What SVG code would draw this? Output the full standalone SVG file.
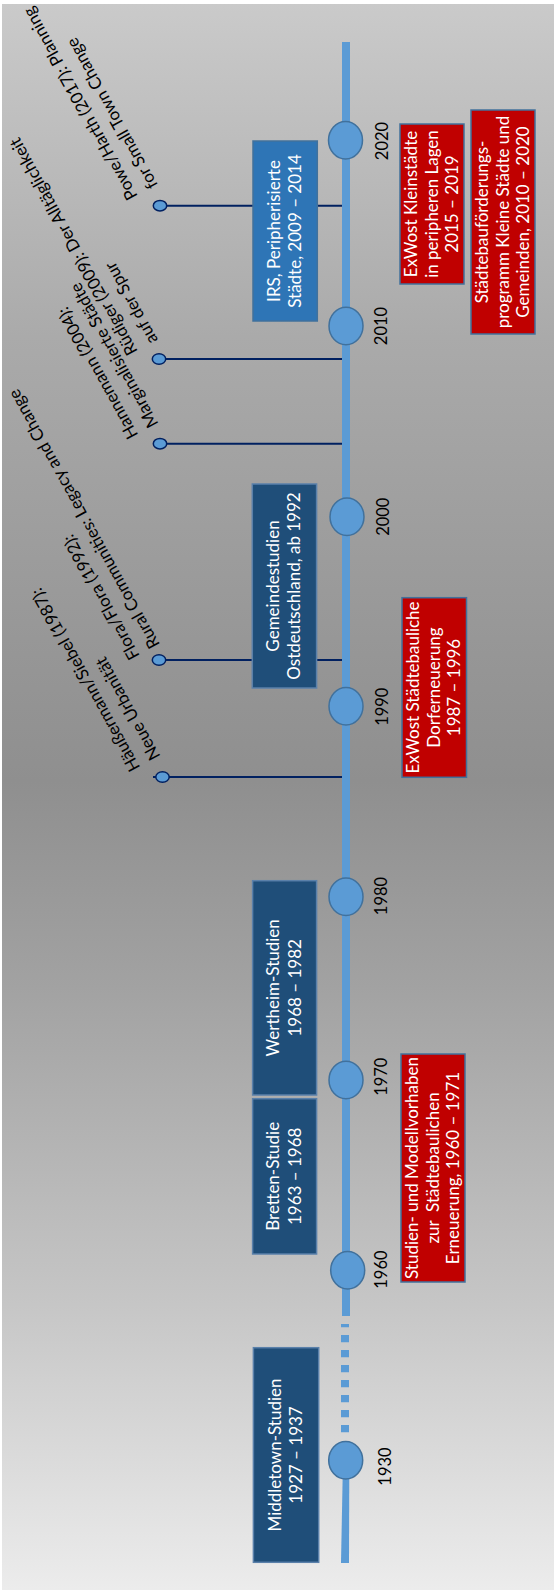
<svg xmlns="http://www.w3.org/2000/svg" width="554" height="1591" viewBox="0 0 554 1591">
<defs>
<linearGradient id="bg" x1="0" y1="0" x2="0" y2="1">
<stop offset="0" stop-color="#cacaca"/>
<stop offset="0.21" stop-color="#aaaaaa"/>
<stop offset="0.42" stop-color="#959595"/>
<stop offset="0.49" stop-color="#8f8f8f"/>
<stop offset="0.62" stop-color="#a2a2a2"/>
<stop offset="0.82" stop-color="#c6c6c6"/>
<stop offset="1" stop-color="#ececec"/>
</linearGradient>
<style>
.bd{fill:#1f4e79;stroke:#5a80aa;stroke-width:1.5}
.bm{fill:#2e75b6;stroke:#41719c;stroke-width:1.5}
.br{fill:#c00000;stroke:#41719c;stroke-width:1.5}
.yd{fill:#5b9bd5;stroke:#41719c;stroke-width:1.5}
.pin{fill:#5b9bd5;stroke:#002060;stroke-width:1.5}
.conn{stroke:#002060;stroke-width:2;fill:none}
.ax{fill:#5b9bd5}
.wt{fill:#ffffff;font-family:Lato,"Liberation Sans",sans-serif;font-size:17px;text-anchor:middle}
.yr{fill:#000000;font-family:Lato,"Liberation Sans",sans-serif;font-size:16.5px;text-anchor:middle}
.lbl{fill:#000000;font-family:Lato,"Liberation Sans",sans-serif;font-size:17px}
</style>
</defs>
<rect x="0" y="0" width="554" height="1591" fill="#ffffff"/>
<rect x="2" y="4" width="552" height="1586" fill="url(#bg)"/>

<g id="connectors">
<line class="conn" x1="166" y1="205.7" x2="342" y2="205.7"/>
<line class="conn" x1="165" y1="359" x2="342" y2="359"/>
<line class="conn" x1="166" y1="443.7" x2="342" y2="443.7"/>
<line class="conn" x1="165" y1="660" x2="342" y2="660"/>
<line class="conn" x1="153" y1="777" x2="342" y2="777"/>
</g>

<g id="axis">
<rect class="ax" x="342" y="42" width="8" height="1274"/>
<line x1="345" y1="1324" x2="345" y2="1432.3" stroke="#5b9bd5" stroke-width="8" stroke-dasharray="7.3 7.7" stroke-dashoffset="4"/>
<polygon class="ax" points="342.8,1470 349.3,1470 349,1563 341,1563"/>
</g>

<g id="year-2020"><ellipse class="yd" cx="345.5" cy="140.3" rx="17" ry="18.7"/><text class="yr" transform="translate(381.6,141) rotate(-90)" y="6">2020</text></g>
<g id="year-2010"><ellipse class="yd" cx="346" cy="326" rx="17" ry="18.7"/><text class="yr" transform="translate(380.5,326) rotate(-90)" y="6">2010</text></g>
<g id="year-2000"><ellipse class="yd" cx="347" cy="516.7" rx="17" ry="18.7"/><text class="yr" transform="translate(383.4,516.7) rotate(-90)" y="6">2000</text></g>
<g id="year-1990"><ellipse class="yd" cx="346" cy="706.3" rx="17" ry="18.7"/><text class="yr" transform="translate(381.6,706.7) rotate(-90)" y="6">1990</text></g>
<g id="year-1980"><ellipse class="yd" cx="346" cy="896.7" rx="17" ry="18.7"/><text class="yr" transform="translate(380.6,896) rotate(-90)" y="6">1980</text></g>
<g id="year-1970"><ellipse class="yd" cx="346" cy="1080" rx="17" ry="18.7"/><text class="yr" transform="translate(380.6,1076.7) rotate(-90)" y="6">1970</text></g>
<g id="year-1960"><ellipse class="yd" cx="347.7" cy="1270.3" rx="17" ry="18.7"/><text class="yr" transform="translate(380.6,1269.6) rotate(-90)" y="6">1960</text></g>
<g id="year-1930"><ellipse class="yd" cx="345.7" cy="1460.3" rx="17" ry="18.7"/><text class="yr" transform="translate(384.5,1466.5) rotate(-90)" y="6">1930</text></g>

<g id="box-irs"><rect class="bm" x="253" y="141" width="64.3" height="180"/><text class="wt" transform="translate(285,231) rotate(-90)"><tspan x="0" y="-5.5">IRS, Peripherisierte</tspan><tspan x="0" y="16">Städte, 2009 – 2014</tspan></text></g>
<g id="box-gemeinde"><rect class="bd" x="252.3" y="484" width="64.3" height="204"/><text class="wt" transform="translate(284.4,586) rotate(-90)"><tspan x="0" y="-5.5">Gemeindestudien</tspan><tspan x="0" y="16">Ostdeutschland, ab 1992</tspan></text></g>
<g id="box-wertheim"><rect class="bd" x="252.6" y="880.7" width="64" height="214.3"/><text class="wt" transform="translate(284.6,987.8) rotate(-90)"><tspan x="0" y="-5.5">Wertheim-Studien</tspan><tspan x="0" y="16">1968 – 1982</tspan></text></g>
<g id="box-bretten"><rect class="bd" x="252.6" y="1098.7" width="64" height="155.3"/><text class="wt" transform="translate(284.6,1176.3) rotate(-90)"><tspan x="0" y="-5.5">Bretten-Studie</tspan><tspan x="0" y="16">1963 – 1968</tspan></text></g>
<g id="box-middletown"><rect class="bd" x="253.4" y="1347.7" width="65.3" height="214.6"/><text class="wt" transform="translate(286,1455) rotate(-90)"><tspan x="0" y="-5.5">Middletown-Studien</tspan><tspan x="0" y="16">1927 – 1937</tspan></text></g>

<g id="box-exwost-kleinstaedte"><rect class="br" x="400" y="124" width="64" height="160"/><text class="wt" transform="translate(432,204) rotate(-90)"><tspan x="0" y="-15">ExWost Kleinstädte</tspan><tspan x="0" y="5.5">in peripheren Lagen</tspan><tspan x="0" y="26">2015 – 2019</tspan></text></g>
<g id="box-foerderprogramm"><rect class="br" x="471" y="110" width="64" height="224"/><text class="wt" transform="translate(503,222) rotate(-90)"><tspan x="0" y="-15">Städtebauförderungs-</tspan><tspan x="0" y="5.5">programm Kleine Städte und</tspan><tspan x="0" y="26">Gemeinden, 2010 – 2020</tspan></text></g>
<g id="box-exwost-dorf"><rect class="br" x="402" y="597.7" width="64.5" height="179.6"/><text class="wt" transform="translate(434,687.5) rotate(-90)"><tspan x="0" y="-15">ExWost Städtebauliche</tspan><tspan x="0" y="5.5">Dorferneuerung</tspan><tspan x="0" y="26">1987 – 1996</tspan></text></g>
<g id="box-studien"><rect class="br" x="401" y="1054" width="64" height="228"/><text class="wt" transform="translate(433,1168) rotate(-90)"><tspan x="0" y="-15">Studien- und Modellvorhaben</tspan><tspan x="0" y="5.5">zur&#160; Städtebaulichen</tspan><tspan x="0" y="26">Erneuerung, 1960 – 1971</tspan></text></g>

<g id="label-powe"><ellipse class="pin" cx="160" cy="205.7" rx="6.7" ry="5.3"/><text class="lbl" transform="translate(160,205.7) rotate(-119)"><tspan x="19" y="-14.5">Powe/Harth (2017): Planning</tspan><tspan x="19" y="8.5">for Small Town Change</tspan></text></g>
<g id="label-ruediger"><ellipse class="pin" cx="159" cy="359" rx="6.7" ry="5.3"/><text class="lbl" transform="translate(159,359) rotate(-119)"><tspan x="17" y="-14.5">Rüdiger (2009): Der Alltäglichkeit</tspan><tspan x="17" y="8.5">auf der Spur</tspan></text></g>
<g id="label-hannemann"><ellipse class="pin" cx="160" cy="443.7" rx="6.7" ry="5.3"/><text class="lbl" transform="translate(160,443.7) rotate(-119)"><tspan x="18" y="-14.5">Hannemann (2004):</tspan><tspan x="18" y="8.5">Marginalisierte Städte</tspan></text></g>
<g id="label-flora"><ellipse class="pin" cx="159" cy="660" rx="6.7" ry="5.3"/><text class="lbl" transform="translate(159,660) rotate(-119)"><tspan x="13" y="-14.5">Flora/Flora (1992):</tspan><tspan x="13" y="8.5">Rural Communities: Legacy and Change</tspan></text></g>
<g id="label-haeussermann"><ellipse class="pin" cx="162.5" cy="777" rx="6.7" ry="5.3"/><text class="lbl" transform="translate(162.5,777) rotate(-119)"><tspan x="19" y="-14.5">Häußermann/Siebel (1987):</tspan><tspan x="19" y="8.5">Neue Urbanität</tspan></text></g>
</svg>
